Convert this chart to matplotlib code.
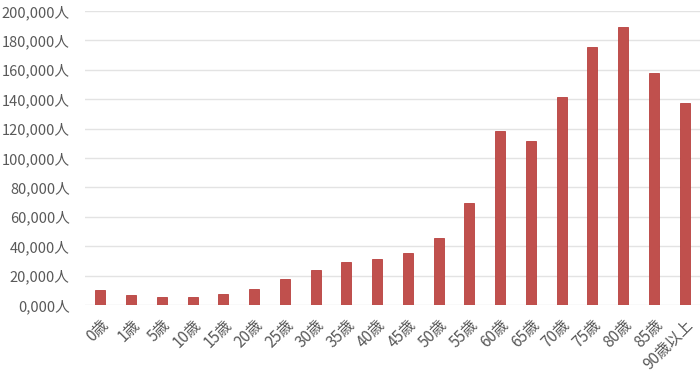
import numpy as np
import matplotlib
matplotlib.use("Agg")
from matplotlib import pyplot as plt

plt.rcParams['font.family'] = ['Noto Sans CJK JP', 'DejaVu Sans']

ages = ["0歳", "1歳", "5歳", "10歳", "15歳", "20歳", "25歳", "30歳", "35歳", "40歳",
        "45歳", "50歳", "55歳", "60歳", "65歳", "70歳", "75歳", "80歳", "85歳", "90歳以上"]
counts = [10400, 6800, 5200, 5200, 7300, 11100, 17700, 23600, 29000, 31300,
          35600, 45800, 69400, 118100, 111300, 141300, 175700, 189300, 158000, 137200]
yticks = [0, 20000, 40000, 60000, 80000, 100000, 120000, 140000, 160000, 180000, 200000]
ytick_labels = ["0,000人", "20,000人", "40,000人", "60,000人", "80,000人", "100,000人",
                "120,000人", "140,000人", "160,000人", "180,000人", "200,000人"]

fig = plt.figure(figsize=(7, 3.76), dpi=100)
ax = fig.add_axes([85/700, 1 - 305/376, 615/700, 294/376])

x = np.arange(len(ages))
ax.bar(x, counts, width=0.33, color="#C0504D", edgecolor="#B8403D", linewidth=0.6, zorder=3)

ax.set_xlim(-0.5, len(ages) - 0.5)
ax.set_ylim(0, 200000)
ax.set_yticks(yticks)
ax.set_yticklabels(ytick_labels)
ax.set_xticks(x)
ax.set_xticklabels(ages, rotation=45, ha="right", rotation_mode="anchor")

ax.grid(axis="y", color="#E3E3E3", linewidth=1, zorder=0)
for s in ax.spines.values():
    s.set_visible(False)
ax.tick_params(length=0, colors="#595959")
ax.tick_params(axis="y", pad=11, labelsize=10.5)
ax.tick_params(axis="x", pad=8, labelsize=11)

fig.savefig("out.png", dpi=100)
